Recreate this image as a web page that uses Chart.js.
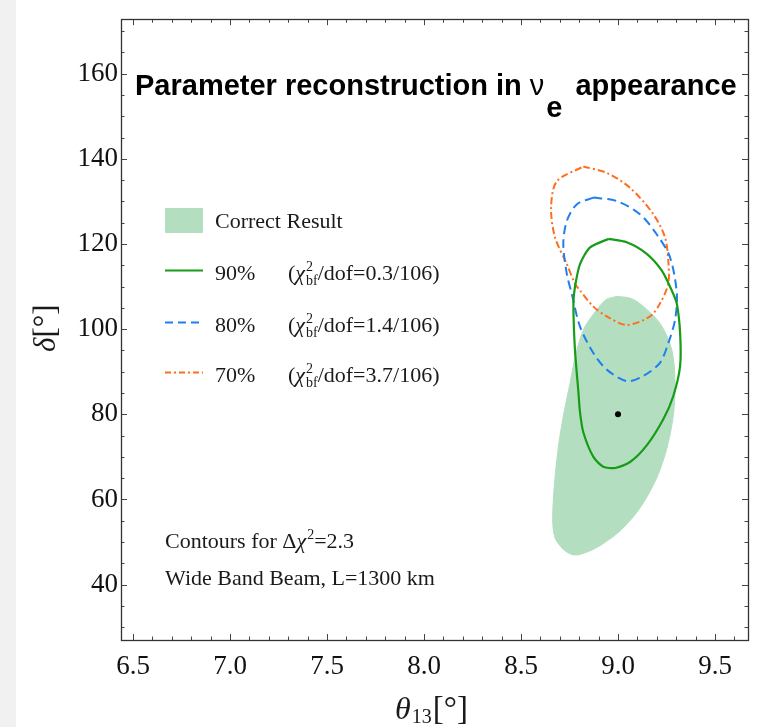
<!DOCTYPE html>
<html>
<head>
<meta charset="utf-8">
<script src="https://cdn.jsdelivr.net/npm/chart.js@4.4.1/dist/chart.umd.min.js"></script>
<style>
  html, body { margin: 0; padding: 0; background: #fff; }
  body { width: 759px; height: 727px; overflow: hidden; position: relative; }
  .edge { position: absolute; left: 0; top: 0; width: 16px; height: 727px; background: #f1f1f1; }
  #wrap { position: absolute; left: 0; top: 0; }
</style>
</head>
<body>
<div class="edge"></div>
<div id="wrap"><canvas id="chart" width="759" height="727"></canvas></div>
<script>
// axis ticks
const thetaTicks = [6.5, 7.0, 7.5, 8.0, 8.5, 9.0, 9.5];
const deltaTicks = [40, 60, 80, 100, 120, 140, 160];

// "Correct Result" region (filled)
const correctTheta = [8.995, 9.06, 9.113, 9.216, 9.277, 9.294, 9.285, 9.251, 9.199, 9.113, 9.010, 8.890, 8.804, 8.761, 8.718, 8.675, 8.663, 8.675, 8.696, 8.722, 8.753, 8.784, 8.825, 8.890, 8.94, 8.995];
const correctDelta = [107.7, 107.3, 106.0, 101.4, 95.2, 87.4, 79.7, 71.9, 65.0, 58.0, 52.6, 48.7, 47.1, 47.1, 48.3, 51.0, 55.7, 65.0, 73.5, 80.5, 87.4, 94.4, 100.2, 104.5, 107.0, 107.7];

// 90% contour
const c90Theta = [8.950, 9.045, 9.148, 9.225, 9.277, 9.303, 9.320, 9.320, 9.285, 9.234, 9.148, 9.062, 8.985, 8.924, 8.873, 8.821, 8.804, 8.796, 8.778, 8.770, 8.778, 8.804, 8.856, 8.950];
const c90Delta = [121.2, 120.4, 117.7, 113.8, 109.1, 106.0, 99.1, 91.3, 84.3, 78.9, 72.7, 68.8, 67.4, 67.7, 70.0, 75.8, 80.5, 85.1, 95.2, 106.0, 109.9, 115.3, 119.2, 121.2];

// 80% contour
const c80Theta = [8.873, 8.993, 9.113, 9.199, 9.268, 9.303, 9.294, 9.259, 9.216, 9.130, 9.045, 8.942, 8.873, 8.804, 8.761, 8.736, 8.718, 8.736, 8.787, 8.873];
const c80Delta = [130.9, 130.1, 127.0, 122.3, 116.9, 108.4, 102.2, 96.7, 92.1, 89.0, 87.8, 90.5, 94.4, 100.6, 108.4, 113.0, 120.0, 125.4, 129.3, 130.9];

// 70% contour
const c70Theta = [8.821, 8.942, 9.062, 9.182, 9.242, 9.259, 9.259, 9.216, 9.165, 9.045, 8.942, 8.873, 8.804, 8.778, 8.736, 8.675, 8.655, 8.684, 8.821];
const c70Delta = [138.2, 136.7, 133.2, 127.0, 121.6, 116.1, 110.7, 106.0, 103.0, 101.0, 103.0, 105.3, 109.1, 110.7, 115.3, 121.6, 128.5, 134.7, 138.2];

// best fit point
const bestTheta = [9.0];
const bestDelta = [80];

const GREEN = '#169c16';
const BLUE = '#1f7ef0';
const ORANGE = '#ff6e1e';
const FILL = '#b4dec0';
const SERIF = '"Liberation Serif", "Times New Roman", serif';
const SANS = '"Liberation Sans", Arial, sans-serif';

const pts = (xs, ys) => xs.map((x, i) => ({ x: x, y: ys[i] }));

// write a row of text pieces, each with its own font and vertical shift
function runs(ctx, x, y, parts) {
  parts.forEach(p => {
    ctx.font = p.font;
    ctx.fillText(p.t, x, y + (p.dy || 0));
    if (!p.stack) x += ctx.measureText(p.t).width + (p.gap || 0);
  });
  return x;
}

const decor = {
  id: 'decor',
  afterDraw(chart) {
    const ctx = chart.ctx;
    const { left, right, top, bottom } = chart.chartArea;
    const xs = chart.scales.x, ys = chart.scales.y;
    ctx.save();

    // inward ticks on all four sides
    ctx.strokeStyle = '#444';
    ctx.lineWidth = 1;
    ctx.beginPath();
    for (let i = Math.ceil(xs.min * 10); i <= Math.floor(xs.max * 10); i++) {
      const px = Math.round(xs.getPixelForValue(i / 10)) + 0.5;
      const len = i % 5 === 0 ? 6 : 3.5;
      ctx.moveTo(px, bottom); ctx.lineTo(px, bottom - len);
      ctx.moveTo(px, top); ctx.lineTo(px, top + len);
    }
    for (let i = Math.ceil(ys.min / 5); i <= Math.floor(ys.max / 5); i++) {
      const py = Math.round(ys.getPixelForValue(i * 5)) + 0.5;
      const len = (i * 5) % 20 === 0 ? 6 : 3.5;
      ctx.moveTo(left, py); ctx.lineTo(left + len, py);
      ctx.moveTo(right, py); ctx.lineTo(right - len, py);
    }
    ctx.stroke();

    // frame
    ctx.strokeStyle = '#333';
    ctx.lineWidth = 1.3;
    ctx.strokeRect(Math.round(left) + 0.5, Math.round(top) + 0.5, Math.round(right - left), Math.round(bottom - top));

    // title
    ctx.fillStyle = '#000';
    ctx.textBaseline = 'alphabetic';
    ctx.textAlign = 'left';
    const tf = 'bold 29px ' + SANS;
    let tx = runs(ctx, 135, 95, [
      { t: 'Parameter reconstruction in ', font: tf },
      { t: 'ν', font: '29px ' + SANS }
    ]);
    tx = runs(ctx, tx + 2, 117, [{ t: 'e', font: tf }]);
    runs(ctx, tx + 13, 95, [{ t: 'appearance', font: tf }]);

    // legend
    const lf = '22px ' + SERIF;
    const lfi = 'italic 22px ' + SERIF;
    const sf = '14px ' + SERIF;
    ctx.fillStyle = FILL;
    ctx.fillRect(165, 208, 38, 25);
    ctx.fillStyle = '#1a1a1a';
    runs(ctx, 215, 228, [{ t: 'Correct Result', font: lf }]);

    const rows = [
      { y: 270, color: GREEN, dash: [], pct: '90%', val: '0.3/106' },
      { y: 322, color: BLUE, dash: [8, 5], pct: '80%', val: '1.4/106' },
      { y: 372, color: ORANGE, dash: [6, 3, 2, 3], pct: '70%', val: '3.7/106' }
    ];
    rows.forEach(r => {
      ctx.strokeStyle = r.color;
      ctx.lineWidth = 2;
      ctx.setLineDash(r.dash);
      ctx.beginPath();
      ctx.moveTo(165, r.y + 0.5);
      ctx.lineTo(203, r.y + 0.5);
      ctx.stroke();
      ctx.setLineDash([]);
      runs(ctx, 215, r.y + 10, [{ t: r.pct, font: lf }]);
      runs(ctx, 288, r.y + 10, [
        { t: '(', font: lf },
        { t: 'χ', font: lfi, gap: 1 },
        { t: '2', font: sf, dy: -9, stack: true },
        { t: 'bf', font: sf, dy: 5 },
        { t: '/dof=' + r.val + ')', font: lf }
      ]);
    });

    // notes
    runs(ctx, 165, 548, [
      { t: 'Contours for Δ', font: lf },
      { t: 'χ', font: lfi, gap: 1 },
      { t: '2', font: sf, dy: -9 },
      { t: '=2.3', font: lf }
    ]);
    runs(ctx, 165, 585, [{ t: 'Wide Band Beam, L=1300 km', font: lf }]);

    // axis titles
    let ax = runs(ctx, 395, 719, [{ t: 'θ', font: 'italic 32px ' + SERIF }]);
    ax = runs(ctx, ax + 1, 723, [{ t: '13', font: '20px ' + SERIF }]);
    runs(ctx, ax + 1, 719, [{ t: '[°]', font: '33px ' + SERIF }]);

    ctx.translate(55, 352);
    ctx.rotate(-Math.PI / 2);
    runs(ctx, 0, 0, [
      { t: 'δ', font: 'italic 31px ' + SERIF },
      { t: '[°]', font: '31px ' + SERIF }
    ]);
    ctx.restore();
  }
};

const tickFont = { family: SERIF, size: 27 };

new Chart(document.getElementById('chart'), {
  type: 'scatter',
  data: {
    datasets: [
      {
        label: 'best fit',
        data: pts(bestTheta, bestDelta),
        pointRadius: 3,
        pointBackgroundColor: '#000',
        pointBorderWidth: 0
      },
      {
        label: '90%',
        data: pts(c90Theta, c90Delta),
        showLine: true,
        borderColor: GREEN,
        borderWidth: 2.2,
        pointRadius: 0,
        tension: 0.25,
        fill: false
      },
      {
        label: '80%',
        data: pts(c80Theta, c80Delta),
        showLine: true,
        borderColor: BLUE,
        borderWidth: 2,
        borderDash: [9, 5],
        pointRadius: 0,
        tension: 0.3,
        fill: false
      },
      {
        label: '70%',
        data: pts(c70Theta, c70Delta),
        showLine: true,
        borderColor: ORANGE,
        borderWidth: 2,
        borderDash: [7, 3, 2, 3],
        pointRadius: 0,
        tension: 0.3,
        fill: false
      },
      {
        label: 'Correct Result',
        data: pts(correctTheta, correctDelta),
        showLine: true,
        borderColor: FILL,
        borderWidth: 1,
        backgroundColor: FILL,
        fill: 'shape',
        pointRadius: 0,
        tension: 0.3
      }
    ]
  },
  options: {
    responsive: false,
    animation: false,
    events: [],
    layout: { autoPadding: false, padding: { left: 0, top: 13, right: 11, bottom: 0 } },
    plugins: {
      legend: { display: false },
      tooltip: { enabled: false }
    },
    scales: {
      x: {
        type: 'linear',
        position: 'bottom',
        min: 6.438,
        max: 9.67,
        afterBuildTicks: s => { s.ticks = thetaTicks.map(v => ({ value: v })); },
        afterFit: s => { s.height = 87; },
        ticks: {
          font: tickFont,
          color: '#111',
          padding: 11,
          maxRotation: 0,
          autoSkip: false,
          callback: v => Number(v).toFixed(1)
        },
        grid: { display: false, drawTicks: false },
        border: { display: false }
      },
      y: {
        type: 'linear',
        position: 'left',
        min: 27,
        max: 172.8,
        afterBuildTicks: s => { s.ticks = deltaTicks.map(v => ({ value: v })); },
        afterFit: s => { s.width = 121; },
        ticks: {
          font: tickFont,
          color: '#111',
          padding: 3,
          autoSkip: false,
          callback: v => String(v)
        },
        grid: { display: false, drawTicks: false },
        border: { display: false }
      }
    }
  },
  plugins: [decor]
});
</script>
</body>
</html>
